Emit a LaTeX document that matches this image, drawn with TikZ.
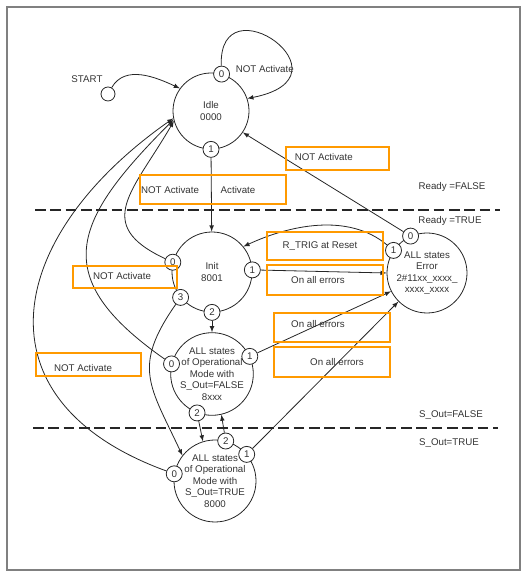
\documentclass[tikz,border=0pt]{standalone}
\usepackage{fontspec}
\setmainfont{Liberation Sans}
\usetikzlibrary{positioning,calc}
\usetikzlibrary{arrows}
\definecolor{boxorange}{HTML}{FF9A00}

\begin{document}
\begin{tikzpicture}[x=0.75pt, y=0.75pt, line width=0.6pt, draw=black!85, text=black!80,
  font=\fontsize{7.3}{8.6}\selectfont,
  state/.style={circle, draw, align=center, inner sep=0pt},
  port/.style={circle, draw, fill=white, inner sep=0pt, minimum size=12pt},
  obox/.style={draw=boxorange, line width=1.6pt},
  divider/.style={dash pattern=on 8pt off 3.5pt, line width=1.3pt}]
\useasboundingbox (0,0) rectangle (530,577);
\draw[gray, line width=1.2pt] (7,7) rectangle (520,570);

\node (idle) [state, minimum size=57pt] at (211,466) {Idle\\0000};
\node (init) [state, minimum size=60pt] at (212,305) {Init\\8001};
\node (err) [state, minimum size=60pt] at (427,304) {ALL states\\Error\\2\#11xx\_xxxx\_\\xxxx\_xxxx};
\node (opf) [state, minimum size=61.5pt] at (212,203) {ALL states\\of Operational\\Mode with\\S\_Out=FALSE\\8xxx};
\node (opt) [state, minimum size=61.5pt] at (215,96) {ALL states\\of Operational\\Mode with\\S\_Out=TRUE\\8000};

\node (i0) [port] at (idle.74) {0};
\node (i1) [port] at (idle.270) {1};
\node (n0) [port] at (init.166) {0};
\node (n1) [port] at (init.3) {1};
\node (n2) [port] at (init.270) {2};
\node (n3) [port] at (init.219) {3};
\node (e0) [port] at (err.114) {0};
\node (e1) [port] at (err.146) {1};
\node (f0) [port] at (opf.166) {0};
\node (f1) [port] at (opf.25) {1};
\node (f2) [port] at (opf.249) {2};
\node (t0) [port] at (opt.170) {0};
\node (t1) [port] at (opt.40) {1};
\node (t2) [port] at (opt.75) {2};

\node (start) [circle, draw, minimum size=10.5pt, inner sep=0pt] at (108,483) {};
\node (startlbl) at (87,498) {START};
\node (loopl) [anchor=west] at (231,508) {NOT Activate};

\draw[-latex] (start) to[out=60, in=155] (idle.144);
\draw[-latex] (i0) .. controls (218,598) and (358,500) .. (idle.19);
\draw[-latex] (i1) -- (init);
\draw[-latex] (e0) -- (idle.326);
\draw[-latex] (e1) to[out=140, in=25, looseness=0.9] (init.39);
\draw[-latex] (n1) -- (err.180);
\draw[-latex] (n0) to[out=155, in=240, looseness=1.5] (idle.195);
\draw[-latex] (f0) to[out=145, in=225, looseness=1.53] (idle.193);
\draw[-latex] (t0) to[out=160, in=215, looseness=1.49] (idle.191);
\draw[-latex] (n3) to[out=235, in=115, looseness=1.3] (opt.142);
\draw[-latex] (n2) -- (opf);
\draw[-latex] (f1) -- (err.207);
\draw[-latex] (t1) -- (err.225);
\draw[-latex] (f2) -- (opt.107);
\draw[-latex] (t2) -- (opf.283);

\draw[divider] (35,367) -- (500,367);
\draw[divider] (33,149) -- (498,149);
\node (rfalse) at (452,390) {Ready =FALSE};
\node (rtrue) at (450,356) {Ready =TRUE};
\node (sfalse) at (451,162) {S\_Out=FALSE};
\node (strue) at (449,134) {S\_Out=TRUE};

\draw[obox] (286,407) rectangle (389,430);
\draw[obox] (140,373) rectangle (286,402);
\draw[obox] (267,317) rectangle (383,345);
\draw[obox] (267,282) rectangle (383,312);
\draw[obox] (274,235) rectangle (390,264);
\draw[obox] (274,200) rectangle (390,230);
\draw[obox] (73,289) rectangle (177,311);
\draw[obox] (36,201) rectangle (141,224);
\node (b1) [anchor=west] at (290,420) {NOT Activate};
\node (b2a) at (170,387) {NOT Activate};
\node (b2b) at (238,387) {Activate};
\node (b3) at (320,331) {R\_TRIG at Reset};
\node (b4) at (318,297) {On all errors};
\node (b5) at (318,253) {On all errors};
\node (b6) at (337,215) {On all errors};
\node (b7) at (122,301) {NOT Activate};
\node (b8) at (83,209) {NOT Activate};
\end{tikzpicture}
\end{document}
